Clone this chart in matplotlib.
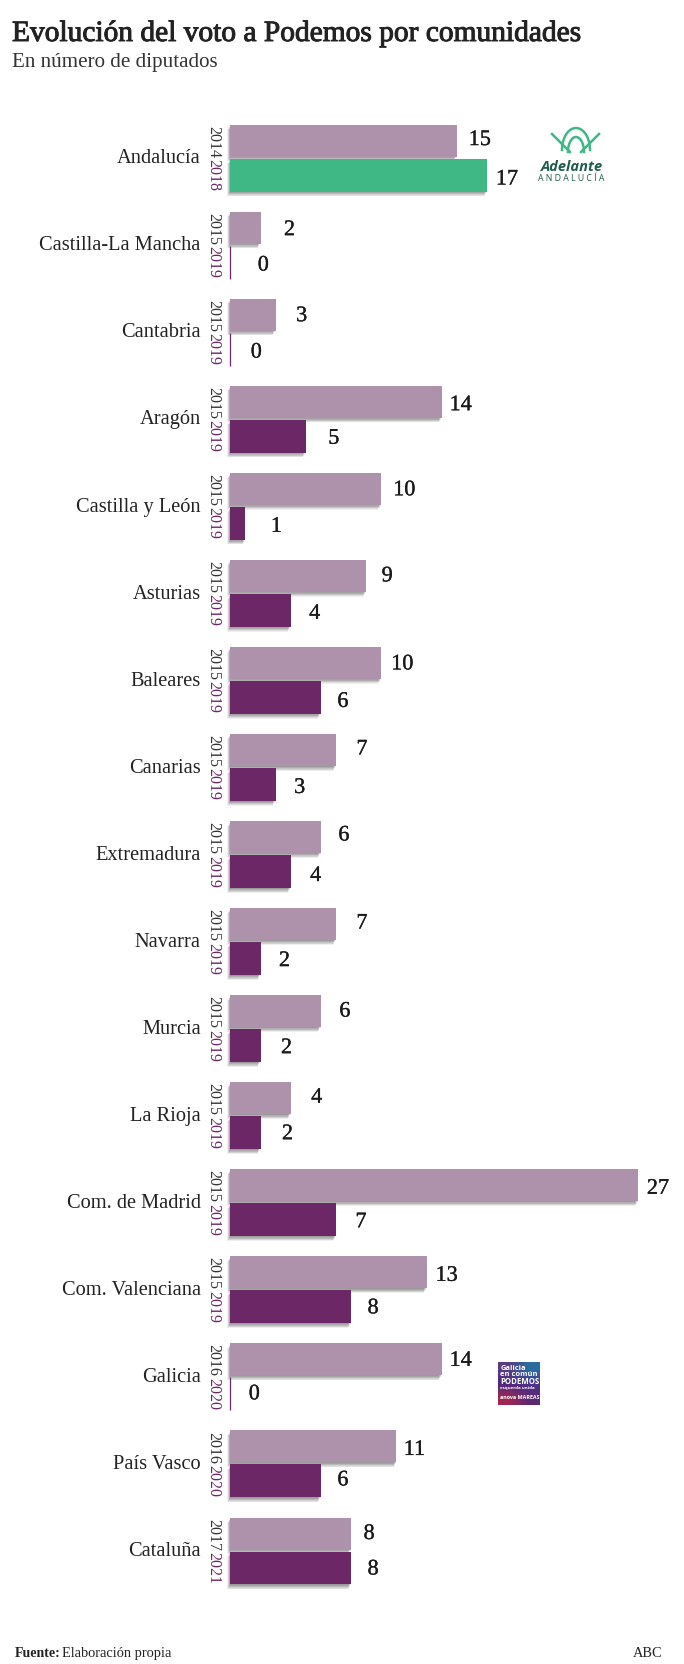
import numpy as np
import matplotlib
matplotlib.use('Agg')
import matplotlib.pyplot as plt
import matplotlib.patheffects as pe

# data
regions = ['Andalucía', 'Castilla-La Mancha', 'Cantabria', 'Aragón', 'Castilla y León',
           'Asturias', 'Baleares', 'Canarias', 'Extremadura', 'Navarra', 'Murcia',
           'La Rioja', 'Com. de Madrid', 'Com. Valenciana', 'Galicia', 'País Vasco', 'Cataluña']
year_before = ['2014', '2015', '2015', '2015', '2015', '2015', '2015', '2015', '2015',
               '2015', '2015', '2015', '2015', '2015', '2016', '2016', '2017']
year_after = ['2018', '2019', '2019', '2019', '2019', '2019', '2019', '2019', '2019',
              '2019', '2019', '2019', '2019', '2019', '2020', '2020', '2021']
seats_before = [15, 2, 3, 14, 10, 9, 10, 7, 6, 7, 6, 4, 27, 13, 14, 11, 8]
seats_after = [17, 0, 0, 5, 1, 4, 6, 3, 4, 2, 2, 2, 7, 8, 0, 6, 8]

# hand nudges of the value labels, in pixels from the bar end / bar centre
nudge_before_x = [23, 29, 26, 19, 23, 21, 21, 26, 23, 26, 24, 26, 20, 20, 19, 18, 18]
nudge_before_y = [-2, 1, 0, 2, 0, -1, 0, -2, -3, -2, -1, -2, 2, 2, 0, 2, -1]
nudge_after_x = [20, 33, 26, 28, 31, 24, 22, 24, 25, 24, 26, 27, 25, 22, 24, 22, 22]
nudge_after_y = [3, 2, 2, 1, 2, 2, 3, 2, 3, 1, 1, 0, 1, 0, -1, -2, 0]

LIGHT = '#ae92ab'
DARK = '#6c2766'
GREEN = '#3fb886'
INK = '#222222'
SERIF = 'Liberation Serif'

W, H = 684, 1664
fig = plt.figure(figsize=(W / 100, H / 100), dpi=100, facecolor='white')

pitch = 87.06
top = 157.8 - pitch / 2
ax = fig.add_axes([230.3 / W, 1 - (top + 17 * pitch) / H, 15.1 * 27 / W, 17 * pitch / H])
ax.set_xlim(0, 27)
ax.set_ylim(16.5, -0.5)
ax.axis('off')

# soft drop shadow built from stacked offsets, falling down and to the left
shadow = [pe.SimplePatchShadow(offset=(-o * 0.6, -o), shadow_rgbFace='#333333', alpha=0.08)
          for o in np.linspace(3.4, 0.4, 8)] + [pe.Normal()]
# small stroke so the serif reads a bit heavier, like the original type
heavy = [pe.withStroke(linewidth=0.2, foreground='#1a1a1a')]

y = np.arange(len(regions))
y_before = y - 0.198
y_after = y + 0.198
colors_after = [GREEN if name == 'Andalucía' else DARK for name in regions]

bars_before = ax.barh(y_before, seats_before, height=0.368, color=LIGHT)
bars_after = ax.barh(y_after, seats_after, height=0.379, color=colors_after)
for b in list(bars_before) + list(bars_after):
    b.set_clip_on(False)
    if b.get_width() > 0:
        b.set_path_effects(shadow)
    else:
        b.set_edgecolor(DARK)
        b.set_linewidth(0.9)

for i in range(len(regions)):
    ax.annotate(str(seats_before[i]), (seats_before[i], y_before[i]),
                xytext=(nudge_before_x[i], -nudge_before_y[i] - 2), textcoords='offset pixels',
                ha='center', va='center', family=SERIF, fontsize=16, color='#1a1a1a',
                annotation_clip=False, path_effects=heavy)
    ax.annotate(str(seats_after[i]), (seats_after[i], y_after[i]),
                xytext=(nudge_after_x[i], -nudge_after_y[i] - 2), textcoords='offset pixels',
                ha='center', va='center', family=SERIF, fontsize=16, color='#1a1a1a',
                annotation_clip=False, path_effects=heavy)
    ax.annotate(regions[i], (0, y[i]), xytext=(-29.5, -1), textcoords='offset pixels',
                ha='right', va='center', family=SERIF, fontsize=14.7, color=INK,
                annotation_clip=False)
    ax.annotate(year_before[i], (0, y_before[i]), xytext=(-17.5, -1), textcoords='offset pixels',
                ha='center', va='center', rotation=270, family=SERIF, fontsize=11.5,
                color='#333333', annotation_clip=False)
    ax.annotate(year_after[i], (0, y_after[i]), xytext=(-17.5, 0), textcoords='offset pixels',
                ha='center', va='center', rotation=270, family=SERIF, fontsize=11.5,
                color=DARK, annotation_clip=False)

# overlay in pixel coordinates for titles and logos
ov = fig.add_axes([0, 0, 1, 1], zorder=5)
ov.set_xlim(0, W)
ov.set_ylim(H, 0)
ov.axis('off')
ov.patch.set_alpha(0)

ov.text(12, 41, 'Evolución del voto a Podemos por comunidades', family=SERIF,
        fontsize=21.2, color='#222222', va='baseline',
        path_effects=[pe.withStroke(linewidth=0.7, foreground='#222222')])
ov.text(12, 67, 'En número de diputados', family=SERIF, fontsize=15.1, color='#333333', va='baseline')
ov.text(14.5, 1657, 'Fuente:', family=SERIF, fontweight='bold', fontsize=10, color='#222222', va='baseline')
ov.text(62.5, 1657, 'Elaboración propia', family=SERIF, fontsize=10.4, color='#222222', va='baseline')
ov.text(662, 1657, 'ABC', family=SERIF, fontsize=10.4, color='#222222', va='baseline', ha='right')

# Adelante Andalucía logo
logo = '#3fb886'
t = np.linspace(0, np.pi, 40)
ov.plot(576 + 14 * np.cos(t), 150 - 22 * np.sin(t), color=logo, lw=1.8)
ov.plot(576 + 8 * np.cos(t), 152 - 15 * np.sin(t), color=logo, lw=1.8)
ov.plot([552, 570], [134, 152], color=logo, lw=1.8)
ov.plot([599, 581], [134, 152], color=logo, lw=1.8)
ov.text(572, 171, 'Adelante', family='Open Sans', fontweight='bold', style='italic',
        fontsize=10.5, color='#1f5c4c', ha='center', va='baseline')
ov.text(571, 181, 'A N D A L U C Í A', family='Open Sans', fontsize=6.3,
        color='#1f5c4c', ha='center', va='baseline')

# Galicia en común logo
grad = np.array([[[0.35, 0.24, 0.50], [0.16, 0.43, 0.63]],
                 [[0.30, 0.16, 0.50], [0.30, 0.20, 0.55]],
                 [[0.62, 0.16, 0.32], [0.36, 0.16, 0.45]]])
ov.imshow(grad, extent=(498, 540, 1405, 1362), interpolation='bilinear', aspect='auto', zorder=3)
ov.set_xlim(0, W)
ov.set_ylim(H, 0)
for txt, ty, fs, fw in [('Galicia', 1370, 5.4, 'bold'), ('en común', 1376.5, 5.4, 'bold'),
                        ('PODEMOS', 1384.5, 5.6, 'bold'), ('esquerda unida', 1389.5, 3.2, 'bold'),
                        ('anova MAREAS', 1399, 3.9, 'bold')]:
    ov.text(500.5, ty, txt, family='Open Sans', fontsize=fs, fontweight=fw, color='white',
            va='baseline', zorder=4)

fig.savefig('out.png', dpi=100, facecolor='white')
